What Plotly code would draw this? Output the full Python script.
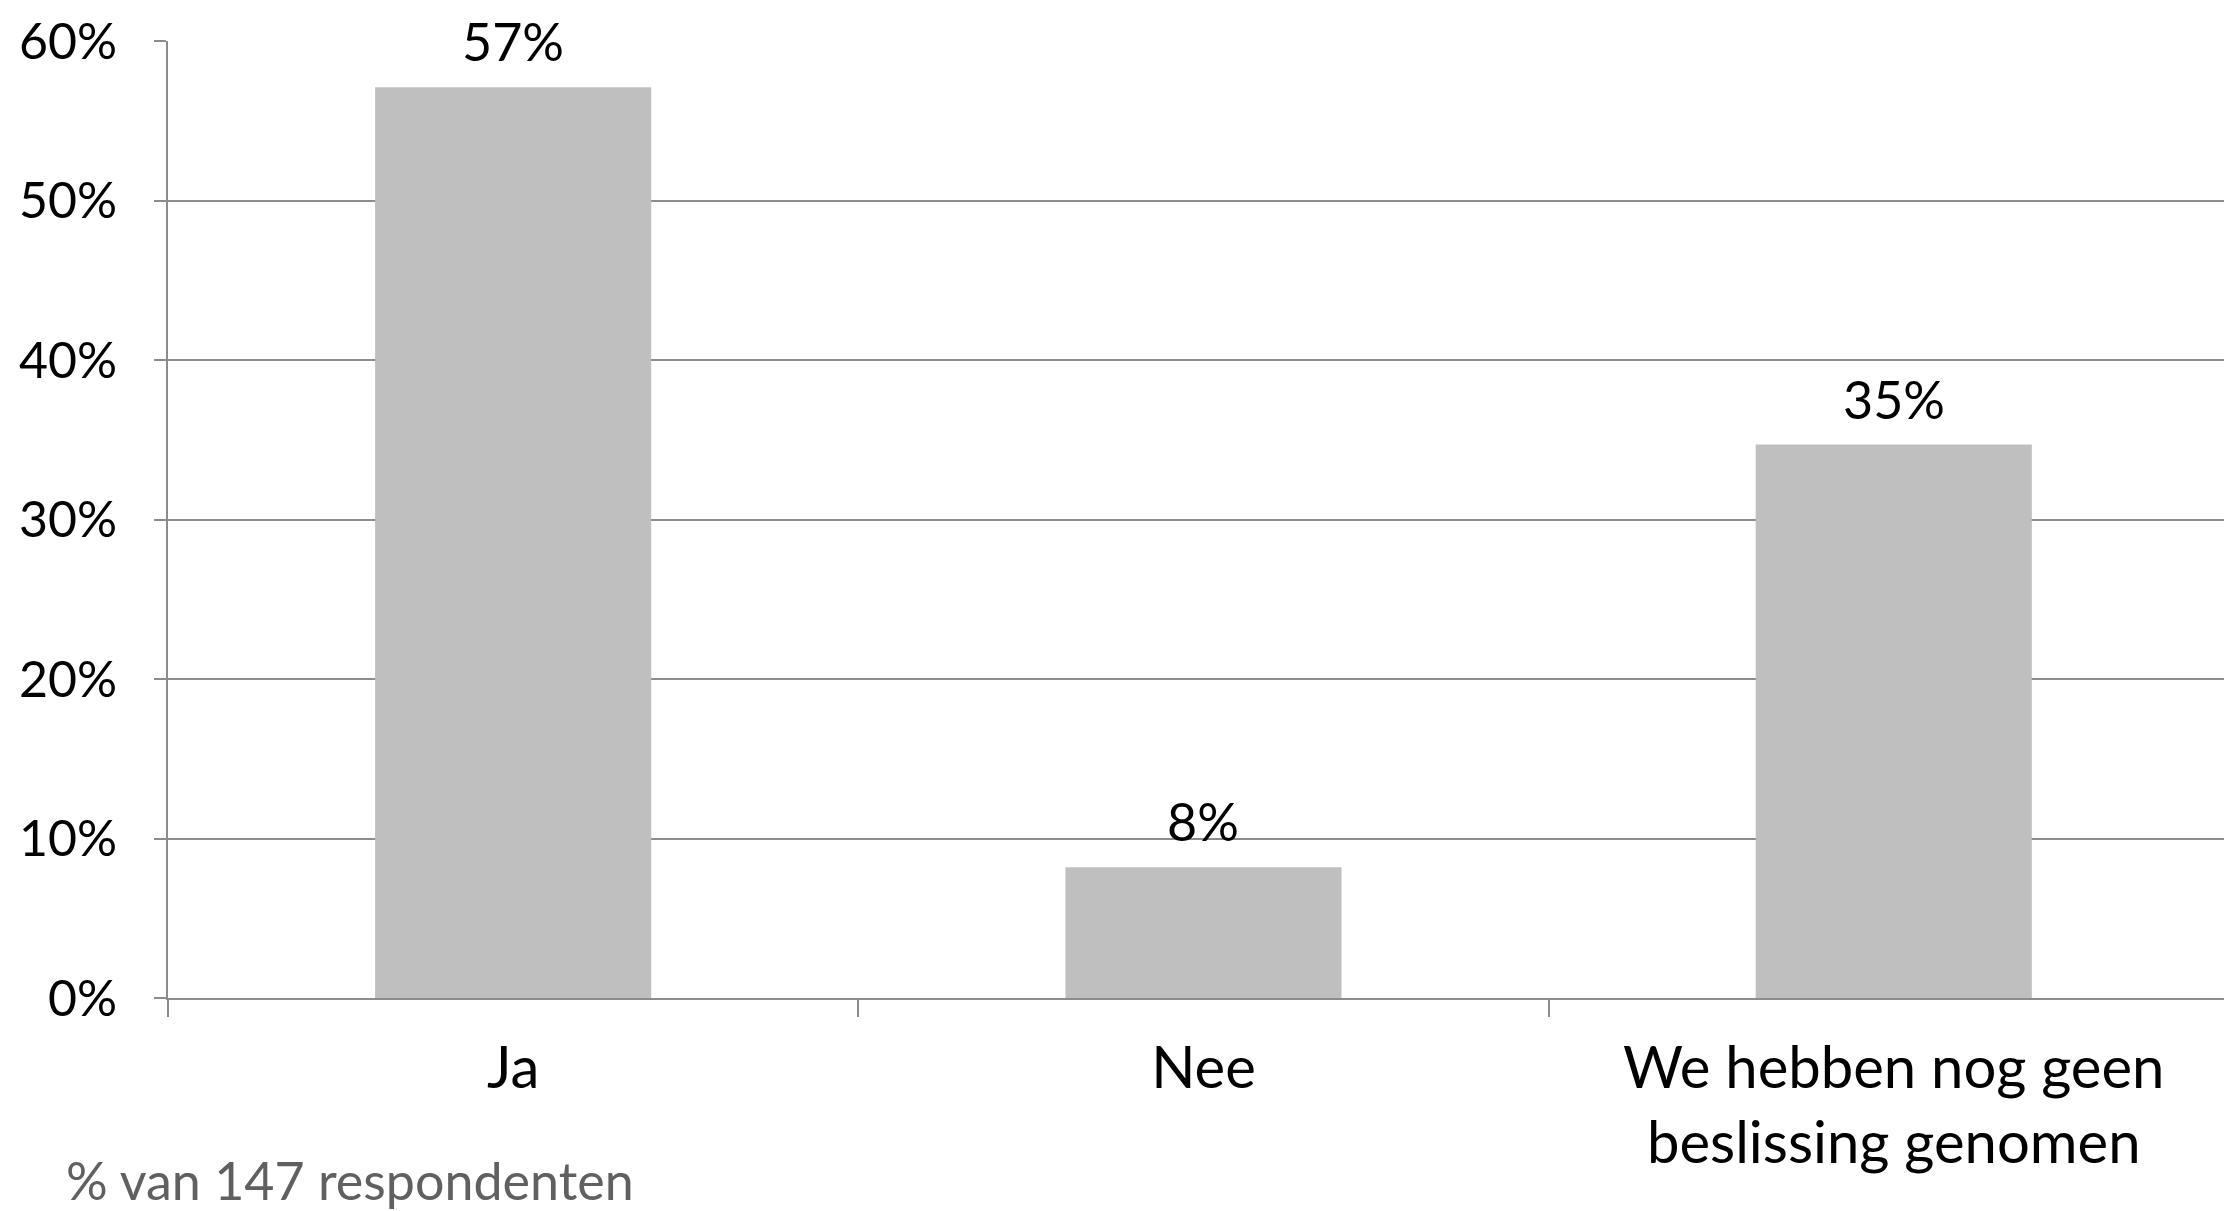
import plotly.graph_objects as go

categories = ["Ja", "Nee", "We hebben nog geen<br>beslissing genomen"]
values = [57.1, 8.2, 34.7]
value_labels = ["57%", "8%", "35%"]
y_ticks = [0, 10, 20, 30, 40, 50, 60]
footnote = "% van 147 respondenten"

FONT = "Lato, Roboto, DejaVu Sans, sans-serif"
GRID = "#8c8c8c"

fig = go.Figure()
fig.add_trace(go.Bar(
    x=categories, y=values,
    marker=dict(color="#bfbfbf", line=dict(width=0)),
    hoverinfo="skip",
))

for c, v, t in zip(categories, values, value_labels):
    fig.add_annotation(x=c, y=v, text=t, showarrow=False,
                       yanchor="bottom", yshift=13,
                       font=dict(family=FONT, size=52, color="#000000"))

fig.add_annotation(xref="paper", yref="paper", x=-0.0504, y=-0.190,
                   xanchor="left", yanchor="middle", text=footnote, showarrow=False,
                   font=dict(family=FONT, size=52, color="#606060"))

fig.update_layout(
    width=2224, height=1203,
    margin=dict(l=160, r=0, t=33, b=213),
    paper_bgcolor="white", plot_bgcolor="white",
    bargap=0.6, showlegend=False,
    font=dict(family=FONT, size=52, color="#000000"),
)
fig.update_xaxes(
    range=[-0.5, 2.49],
    showline=True, linecolor=GRID, linewidth=2,
    ticks="outside", tickson="boundaries", ticklen=17, tickwidth=2, tickcolor=GRID,
    showgrid=False, ticklabelstandoff=18,
    tickfont=dict(family=FONT, size=58, color="#000000"),
)
fig.update_yaxes(
    range=[0, 60], tickvals=y_ticks, ticktext=[f"{v}%" for v in y_ticks],
    showline=True, linecolor=GRID, linewidth=2,
    showgrid=True, gridcolor=GRID, gridwidth=2,
    ticks="outside", ticklen=12, tickwidth=2, tickcolor=GRID,
    zeroline=False, ticklabelstandoff=27,
    tickfont=dict(family=FONT, size=50, color="#000000"),
)

fig.write_html("out.html")
